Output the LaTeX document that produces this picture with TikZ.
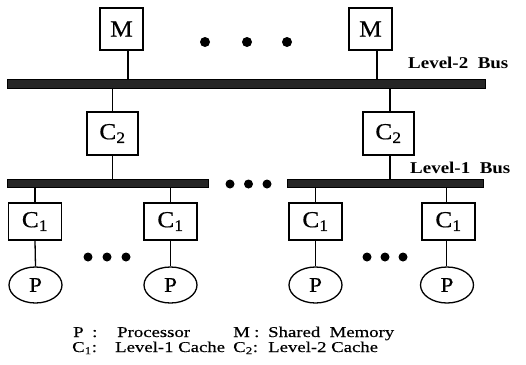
\documentclass[tikz,border=0pt]{standalone}
\usepackage{fontspec}
\setmainfont{Liberation Serif}
\newfontfamily\boxfont[FakeStretch=1.1,FakeBold=0.5]{Liberation Serif}
\newfontfamily\legfont[FakeStretch=1.25,FakeBold=0.4]{Liberation Serif}
\newfontfamily\busfont[FakeStretch=1.15]{Liberation Serif}
\usetikzlibrary{shapes.geometric}
\begin{document}
\begin{tikzpicture}[x=1pt,y=-1pt,
  box/.style={draw,line width=1.3pt,inner sep=0pt,font=\boxfont\fontsize{23}{25}\selectfont},
  mbox/.style={box,minimum width=43pt,minimum height=42pt},
  ctwo/.style={box,minimum width=51pt,minimum height=43pt},
  cone/.style={box,minimum width=53pt,minimum height=37pt},
  proc/.style={draw,line width=1.3pt,ellipse,inner sep=0pt,minimum width=53pt,minimum height=36pt,font=\boxfont\fontsize{21}{23}\selectfont},
  bus/.style={draw,line width=0.8pt,fill=black!85,inner sep=0pt},
  wire/.style={line width=1.3pt},
  dot/.style={fill=black},
  buslabel/.style={anchor=west,inner sep=0pt,font=\busfont\bfseries\fontsize{16.5}{18}\selectfont},
  leg/.style={anchor=base west,inner sep=0pt,text height=9pt,text depth=2pt,font=\legfont\fontsize{15}{17}\selectfont}]
\useasboundingbox (0,0) rectangle (526,364);
% memories
\node[mbox] (m1) at (121.5,29) {M};
\node[mbox] (m2) at (370.5,29) {M};
\fill[dot] (205,42) circle (5) (247,42) circle (5) (287,42) circle (5);
% level-2 bus
\node[bus,minimum width=478pt,minimum height=9pt] (bus2) at (246,83.5) {};
\node[buslabel] (l2) at (408,63) {Level-2\ \ Bus};
\draw[wire] ([xshift=6.5pt]m1.south) -- ([xshift=6.5pt]m1.south |- bus2.north);
\draw[wire] ([xshift=6.5pt]m2.south) -- ([xshift=6.5pt]m2.south |- bus2.north);
% level-2 caches
\node[ctwo] (c2a) at (112.5,133.5) {C\textsubscript{2}};
\node[ctwo] (c2b) at (388.5,133.5) {C\textsubscript{2}};
\draw[wire] (c2a.north) -- (c2a.north |- bus2.south);
\draw[wire] ([xshift=1.5pt]c2b.north) -- ([xshift=1.5pt]c2b.north |- bus2.south);
% level-1 buses
\node[bus,minimum width=201pt,minimum height=8pt] (bus1a) at (107.5,183) {};
\node[bus,minimum width=196pt,minimum height=8pt] (bus1b) at (385,183) {};
\node[buslabel] (l1) at (410,168) {Level-1\ \ Bus};
\fill[dot] (230,184) circle (4.5) (248.5,184) circle (4.5) (267,184) circle (4.5);
\draw[wire] (c2a.south) -- (c2a.south |- bus1a.north);
\draw[wire] ([xshift=1.5pt]c2b.south) -- ([xshift=1.5pt]c2b.south |- bus1b.north);
% level-1 caches
\node[cone] (c1a) at (35,221.5) {C\textsubscript{1}};
\node[cone] (c1b) at (170.5,221.5) {C\textsubscript{1}};
\node[cone] (c1c) at (315.5,221.5) {C\textsubscript{1}};
\node[cone] (c1d) at (448.5,221.5) {C\textsubscript{1}};
\draw[wire] (c1a.north) -- (c1a.north |- bus1a.south);
\draw[wire] (c1b.north) -- (c1b.north |- bus1a.south);
\draw[wire] (c1c.north) -- (c1c.north |- bus1b.south);
\draw[wire] ([xshift=-2pt]c1d.north) -- ([xshift=-2pt]c1d.north |- bus1b.south);
% processors
\node[proc] (p1) at (35.5,285) {P};
\node[proc] (p2) at (170.5,285) {P};
\node[proc] (p3) at (315.5,285) {P};
\node[proc] (p4) at (447,285) {P};
\draw[wire] (c1a.south) -- (p1.north);
\draw[wire] (c1b.south) -- (p2.north);
\draw[wire] (c1c.south) -- (p3.north);
\draw[wire] ([xshift=-2pt]c1d.south) -- ([xshift=-2pt]c1d.south |- p4.north);
\fill[dot] (88,257) circle (4.5) (107,257) circle (4.5) (126,257) circle (4.5);
\fill[dot] (367,257) circle (4.5) (385,257) circle (4.5) (403,257) circle (4.5);
% legend
\node[leg] (lp) at (73,337) {P};
\node[leg] (lpc) at (92,337) {:};
\node[leg] (lpt) at (117,337) {Processor};
\node[leg] (lm) at (233,337) {M};
\node[leg] (lmc) at (254,337) {:};
\node[leg] (lmt) at (268,337) {Shared\ \ Memory};
\node[leg] (lc1) at (72,352) {C\textsubscript{1}:};
\node[leg] (lc1t) at (115,352) {Level-1 Cache};
\node[leg] (lc2) at (233,352) {C\textsubscript{2}:};
\node[leg] (lc2t) at (268,352) {Level-2 Cache};
\end{tikzpicture}
\end{document}
